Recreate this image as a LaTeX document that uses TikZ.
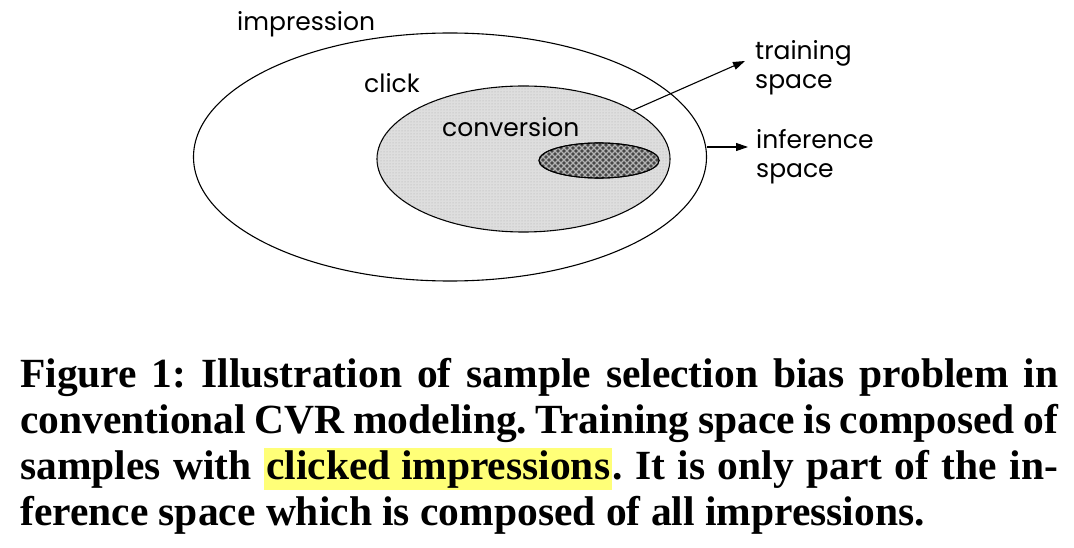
\documentclass[tikz,border=0pt]{standalone}
\usepackage{fontspec}
\setmainfont{Liberation Serif}
\newfontfamily\labelfont{Poppins}
\usetikzlibrary{patterns,arrows.meta,shapes.geometric}
\definecolor{hilite}{RGB}{255,255,120}
\tikzset{
  region/.style={ellipse, draw=black, line width=1.1pt, inner sep=0pt},
  lbl/.style={font=\labelfont\fontsize{25}{29}\selectfont, inner sep=0pt},
  pointer/.style={line width=1.1pt, -{Triangle[length=12pt,width=8pt]}},
  mesh/.style={draw=black!30, line width=1.3pt},
}
\begin{document}
\begin{tikzpicture}[x=1pt,y=-1pt]
\useasboundingbox (0,0) rectangle (1074,548);

% nested sets of samples
\node[region, minimum width=513pt, minimum height=248pt] (impr) at (450,157) {};
\node[region, fill=black!13, minimum width=293pt, minimum height=146pt,
      postaction={pattern=dots, pattern color=black!32}] (clk) at (523.5,159) {};
\node[region, fill=black!72, minimum width=120pt, minimum height=35pt] (conv) at (599,160.5) {};

% diagonal mesh inside the conversion set
\begin{scope}
  \clip (599,160.5) ellipse [x radius=60, y radius=17.5];
  \foreach \k in {-40,-34,...,160} {
    \draw[mesh] (530+\k,180) -- (530+\k+40,140);
    \draw[mesh] (530+\k,140) -- (530+\k+40,180);
  }
\end{scope}
\node[region, minimum width=120pt, minimum height=35pt] (convrim) at (conv.center) {};

% set names
\node[lbl, anchor=base west] (timpr) at (237,31) {impression};
\node[lbl, anchor=base west] (tclk) at (364,93) {click};
\node[lbl, anchor=base west] (tconv) at (442,137) {conversion};

% space labels (anchored on the baseline of their last line)
\node[lbl, anchor=base west, align=left] (ttrain) at (755,89) {training\\space};
\node[lbl, anchor=base west, align=left] (tinf) at (756,178) {inference\\space};
\coordinate (trainend) at (745,61);
\coordinate (infend) at (748,147);
\draw[pointer] (clk.24) -- (trainend);
\draw[pointer] (impr.east |- infend) -- (infend);

% caption
\node[anchor=base west, inner sep=0pt] (caption) at (20,387) {%
  \parbox[t]{1038pt}{\bfseries\frenchspacing\fontsize{41.5}{46}\selectfont
  Figure 1: Illustration of sample selection bias problem in\linebreak
  conventional CVR modeling. Training space is composed of\linebreak
  samples with {\setlength{\fboxsep}{2pt}\colorbox{hilite}{clicked impressions}}. It is only part of the in-\linebreak
  ference space which is composed of all impressions.}};
\end{tikzpicture}
\end{document}
